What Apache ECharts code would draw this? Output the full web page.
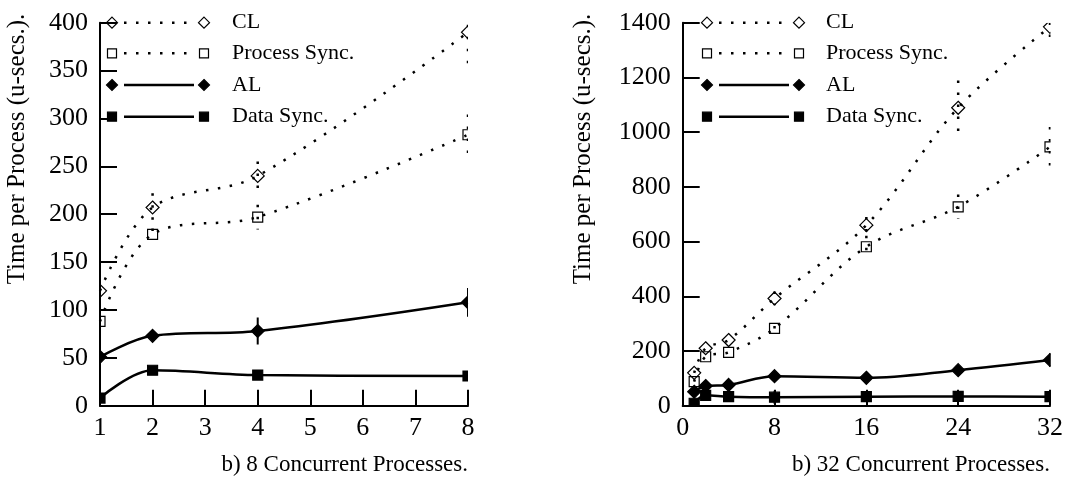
<!DOCTYPE html>
<html><head><meta charset="utf-8">
<script src="https://cdn.jsdelivr.net/npm/echarts@6/dist/echarts.min.js"></script>
<style>html,body{margin:0;padding:0;background:#fff}#c{width:1092px;height:477px}</style>
</head><body><div id="c"></div>
<script>
// ---- data ----
const seriesNames = ['CL', 'Process Sync.', 'AL', 'Data Sync.'];
const yTitle = 'Time per Process (u-secs.).';
const captionA = 'b) 8 Concurrent Processes.';
const captionB = 'b) 32 Concurrent Processes.';

// panel A (8 processes)
const xA = [1, 2, 4, 8];
const clA = [120, 207, 240, 390];
const clAErr = [0, 15, 15, 33];
const psA = [88, 179, 197, 283];
const psAErr = [0, 6, 13, 21];
const alA = [51, 73, 78, 108];
const alAErr = [0, 2, 14, 15];
const dsA = [8, 37, 32, 31];
const dsAErr = [6, 2, 1, 1];

// panel B (32 processes)
const xB = [1, 2, 4, 8, 16, 24, 32];
const clB = [120, 210, 240, 392, 660, 1089, 1385];
const clBErr = [0, 0, 0, 25, 30, 100, 60];
const psB = [88, 179, 195, 283, 581, 727, 946];
const psBErr = [0, 0, 0, 8, 40, 45, 73];
const alB = [51, 72, 76, 108, 102, 130, 167];
const alBErr = [0, 0, 0, 0, 5, 18, 25];
const dsB = [9, 38, 33, 31, 33, 34, 33];
const dsBErr = [0, 0, 0, 24, 18, 18, 18];

// ---- styling ----
const FONT = 'Liberation Serif';
const DOT = [2.5, 9.5];
const styles = [
  {shape: 'diamond', filled: false, dotted: true},
  {shape: 'square', filled: false, dotted: true},
  {shape: 'diamond', filled: true, dotted: false},
  {shape: 'square', filled: true, dotted: false}
];

function markerShape(cx, cy, shape, filled, big) {
  const fill = filled ? '#000' : 'none';
  if (shape === 'diamond') {
    const s = big ? 6.5 : 5.5;
    return {type: 'polygon', shape: {points: [[cx, cy - s], [cx + s, cy], [cx, cy + s], [cx - s, cy]]},
      style: {fill, stroke: '#000', lineWidth: 1.2}};
  }
  const s = big ? 5 : 4.5;
  return {type: 'rect', shape: {x: cx - s, y: cy - s, width: 2 * s, height: 2 * s},
    style: {fill, stroke: '#000', lineWidth: 1.2}};
}

function lineSeries(idx, xs, ys, st) {
  return {
    type: 'line', xAxisIndex: idx, yAxisIndex: idx, clip: true, z: 3,
    data: xs.map((x, i) => [x, ys[i]]),
    smooth: 0.35, showSymbol: false, symbol: 'none', silent: true,
    lineStyle: {color: '#000', width: 2.5, type: st.dotted ? DOT : 'solid', cap: 'butt'}
  };
}
function markSeries(idx, xs, ys, errs, st) {
  return {
    type: 'custom', xAxisIndex: idx, yAxisIndex: idx, clip: true, z: 4, silent: true,
    data: xs.map((x, i) => [x, ys[i], errs[i]]),
    renderItem(params, api) {
      const x = api.value(0), y = api.value(1), e = api.value(2);
      const c = api.coord([x, y]);
      const cs = params.coordSys;
      const children = [];
      if (e > 0) {
        const t = api.coord([x, y + e]), b = api.coord([x, y - e]);
        children.push({type: 'line', shape: {x1: c[0], y1: t[1], x2: c[0], y2: b[1]},
          style: {stroke: '#000', lineWidth: st.dotted ? 2.5 : 2, lineDash: st.dotted ? DOT : null}});
      }
      children.push(markerShape(c[0], c[1], st.shape, st.filled, true));
      return {type: 'group',
        clipPath: {type: 'rect', shape: {x: cs.x, y: cs.y, width: cs.width + 0.5, height: cs.height}},
        children};
    }
  };
}

function xAxisCfg(gi, min, max, interval) {
  return {type: 'value', gridIndex: gi, min, max, interval,
    axisLine: {show: true, onZero: false, lineStyle: {color: '#000', width: 2}},
    axisTick: {show: true, inside: true, length: 16, lineStyle: {color: '#000', width: 2}},
    axisLabel: {color: '#000', fontFamily: FONT, fontSize: 26, margin: 9, formatter: v => String(v)},
    splitLine: {show: false}};
}
function yAxisCfg(gi, min, max, interval) {
  return {type: 'value', gridIndex: gi, min, max, interval,
    axisLine: {show: true, onZero: false, lineStyle: {color: '#000', width: 2}},
    axisTick: {show: true, inside: true, length: 17, lineStyle: {color: '#000', width: 2}},
    axisLabel: {color: '#000', fontFamily: FONT, fontSize: 26, margin: 12, formatter: v => String(v)},
    splitLine: {show: false}};
}

function legendGraphics(x1, lineStart, lineEnd, x2, textX, rows) {
  const g = [];
  seriesNames.forEach((name, i) => {
    const st = styles[i], y = rows[i];
    g.push(Object.assign(markerShape(x1, y, st.shape, st.filled, false), {z: 10}));
    g.push({type: 'line', z: 10, shape: {x1: lineStart, y1: y, x2: lineEnd, y2: y},
      style: {stroke: '#000', lineWidth: 2.5, lineDash: st.dotted ? DOT : null}});
    g.push(Object.assign(markerShape(x2, y, st.shape, st.filled, false), {z: 10}));
    g.push({type: 'text', z: 10, x: textX, y: y,
      style: {text: name, font: '22px "' + FONT + '"', fill: '#000', textAlign: 'left', textVerticalAlign: 'middle'}});
  });
  return g;
}

const rows = [22.7, 53.3, 85, 116.7];
const graphics = [].concat(
  legendGraphics(112, 124, 194, 204, 232, rows),
  legendGraphics(707, 719, 789, 799, 826, rows),
  [
    {type: 'text', x: 17, y: 149, rotation: Math.PI / 2,
      style: {text: yTitle, font: '25px "' + FONT + '"', fill: '#000', textAlign: 'center', textVerticalAlign: 'middle'}},
    {type: 'text', x: 583, y: 149, rotation: Math.PI / 2,
      style: {text: yTitle, font: '25px "' + FONT + '"', fill: '#000', textAlign: 'center', textVerticalAlign: 'middle'}},
    {type: 'text', x: 468, y: 465,
      style: {text: captionA, font: '23px "' + FONT + '"', fill: '#000', textAlign: 'right', textVerticalAlign: 'middle'}},
    {type: 'text', x: 1050, y: 465,
      style: {text: captionB, font: '23px "' + FONT + '"', fill: '#000', textAlign: 'right', textVerticalAlign: 'middle'}}
  ]
);

const panelA = [[clA, clAErr], [psA, psAErr], [alA, alAErr], [dsA, dsAErr]];
const panelB = [[clB, clBErr], [psB, psBErr], [alB, alBErr], [dsB, dsBErr]];
const series = [];
panelA.forEach((p, i) => { series.push(lineSeries(0, xA, p[0], styles[i])); series.push(markSeries(0, xA, p[0], p[1], styles[i])); });
panelB.forEach((p, i) => { series.push(lineSeries(1, xB, p[0], styles[i])); series.push(markSeries(1, xB, p[0], p[1], styles[i])); });

const chart = echarts.init(document.getElementById('c'), null, {renderer: 'canvas'});
chart.setOption({
  animation: false,
  backgroundColor: '#fff',
  grid: [
    {left: 100, top: 22.7, width: 368, height: 383, containLabel: false},
    {left: 682.7, top: 22.7, width: 367.3, height: 383, containLabel: false}
  ],
  xAxis: [xAxisCfg(0, 1, 8, 1), xAxisCfg(1, 0, 32, 8)],
  yAxis: [yAxisCfg(0, 0, 400, 50), yAxisCfg(1, 0, 1400, 200)],
  series,
  graphic: graphics
});
</script></body></html>
